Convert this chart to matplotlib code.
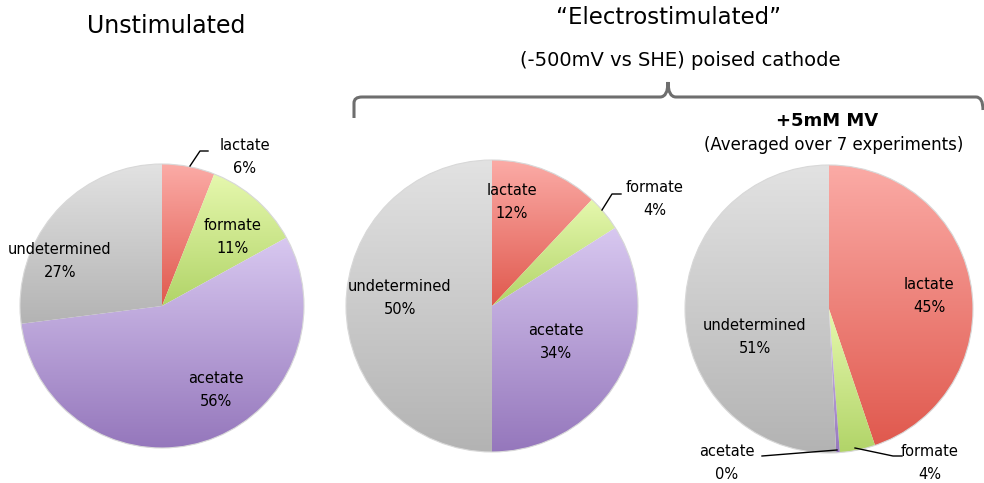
import numpy as np
import matplotlib.pyplot as plt
from matplotlib.path import Path
from matplotlib.patches import PathPatch
from matplotlib.colors import LinearSegmentedColormap

W, H = 984, 483

categories = ['lactate', 'formate', 'acetate', 'undetermined']
unstim = [6, 11, 56, 27]
electro = [12, 4, 34, 50]
electro_mv = [45, 4, 0.4, 51]

# top / bottom colours of each gradient fill
grad = {
    'lactate': ('#fbaba6', '#e0594e'),
    'formate': ('#e6f8ae', '#b1d468'),
    'acetate': ('#d8c8f0', '#9577bc'),
    'undetermined': ('#e2e2e2', '#b3b3b3'),
}

fig = plt.figure(figsize=(W / 100, H / 100), dpi=100)
ax = fig.add_axes([0, 0, 1, 1])


def Y(y):
    # pixel row -> data y
    return H - y


def draw_pie(vals, cx, cy, r):
    wedges, _ = ax.pie(vals, radius=r, center=(cx, Y(cy)), startangle=90,
                       counterclock=False, frame=True,
                       wedgeprops=dict(facecolor='none', edgecolor='none', zorder=3))
    for w, cat in zip(wedges, categories):
        ext = w.get_path().get_extents()
        cmap = LinearSegmentedColormap.from_list(cat, [grad[cat][1], grad[cat][0]])
        g = np.linspace(0, 1, 256).reshape(-1, 1)
        im = ax.imshow(g, cmap=cmap, origin='lower', aspect='auto', zorder=1,
                       extent=[ext.x0, ext.x1, ext.y0, max(ext.y1, ext.y0 + 1)])
        im.set_clip_path(w)
    # faint outline round the whole pie
    ax.add_patch(plt.Circle((cx, Y(cy)), r, facecolor='none', edgecolor='#d8d8d8', lw=0.8, zorder=4))
    return wedges


draw_pie(unstim, 162, 306, 142)
draw_pie(electro, 492, 306, 146)
draw_pie(electro_mv, 829, 309, 144)

fs = 10.5


def lab(x, y, name, v):
    ax.text(x, Y(y), f'{name}\n{round(v)}%', ha='center', va='center', fontsize=fs,
            linespacing=1.6, zorder=5)


# pie 1
lab(245, 157, 'lactate', unstim[0])
lab(233, 237, 'formate', unstim[1])
lab(216, 390, 'acetate', unstim[2])
lab(60, 261, 'undetermined', unstim[3])
ax.plot([190, 200, 208], [Y(166), Y(151), Y(151)], color='black', lw=1, zorder=5)

# pie 2
lab(512, 202, 'lactate', electro[0])
lab(655, 199, 'formate', electro[1])
lab(556, 342, 'acetate', electro[2])
lab(400, 298, 'undetermined', electro[3])
ax.plot([602, 612, 621], [Y(210), Y(194), Y(194)], color='black', lw=1, zorder=5)

# pie 3
lab(929, 296, 'lactate', electro_mv[0])
lab(755, 337, 'undetermined', electro_mv[3])
lab(727, 463, 'acetate', electro_mv[2])
lab(930, 463, 'formate', electro_mv[1])
ax.plot([837, 762], [Y(450), Y(456)], color='black', lw=1, zorder=5)
ax.plot([855, 893, 902], [Y(448), Y(456), Y(456)], color='black', lw=1, zorder=5)

# titles
ax.text(166, Y(26), 'Unstimulated', ha='center', va='center', fontsize=17)
ax.text(668, Y(18), '\u201cElectrostimulated\u201d', ha='center', va='center', fontsize=16.5)
ax.text(680, Y(60), '(-500mV vs SHE) poised cathode', ha='center', va='center', fontsize=14)
ax.text(827, Y(121), '+5mM MV', ha='center', va='center', fontsize=13, fontweight='bold')
ax.text(834, Y(145), '(Averaged over 7 experiments)', ha='center', va='center', fontsize=12)

# curly bracket
verts = [(354, Y(118)), (354, Y(103)),
         (354, Y(97)), (362, Y(97)),
         (660, Y(97)),
         (668, Y(97)), (668, Y(82)),
         (668, Y(97)), (676, Y(97)),
         (976, Y(97)),
         (983, Y(97)), (983, Y(110))]
codes = [Path.MOVETO, Path.LINETO,
         Path.CURVE3, Path.CURVE3,
         Path.LINETO,
         Path.CURVE3, Path.CURVE3,
         Path.CURVE3, Path.CURVE3,
         Path.LINETO,
         Path.CURVE3, Path.CURVE3]
ax.add_patch(PathPatch(Path(verts, codes), facecolor='none', edgecolor='#6e6e6e', lw=2.2))

ax.set_xlim(0, W)
ax.set_ylim(0, H)
ax.set_aspect('auto')
ax.axis('off')

fig.savefig('out.png', dpi=100)
